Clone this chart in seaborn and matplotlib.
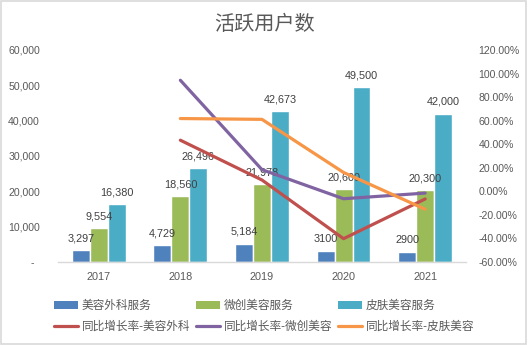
import numpy as np
import pandas as pd
import matplotlib
matplotlib.use("Agg")
import matplotlib.pyplot as plt
import seaborn as sns
from matplotlib.ticker import FuncFormatter, MultipleLocator
from matplotlib.patches import Patch, Rectangle
from matplotlib.lines import Line2D

# ---- data ----
years = ["2017", "2018", "2019", "2020", "2021"]
bar_series = ["美容外科服务", "微创美容服务", "皮肤美容服务"]
surgery = [3297, 4729, 5184, 3100, 2900]
minimal = [9554, 18560, 21978, 20600, 20300]
skin = [16380, 26496, 42673, 49500, 42000]

line_series = ["同比增长率-美容外科", "同比增长率-微创美容", "同比增长率-皮肤美容"]
growth_surgery = [np.nan, 43.4, 9.6, -40.2, -6.5]
growth_minimal = [np.nan, 94.3, 18.4, -6.3, -1.5]
growth_skin = [np.nan, 61.8, 61.1, 16.0, -15.2]

# bars whose data label is written without a thousands separator
plain_labels = {("美容外科服务", "2020"), ("美容外科服务", "2021")}

bar_colors = ["#4F81BD", "#9BBB59", "#4BACC6"]
line_colors = ["#C0504D", "#8064A2", "#F79646"]
text_color = "#595959"

# ---- tidy tables ----
bars = pd.DataFrame({
    "year": years * 3,
    "series": [s for s in bar_series for _ in years],
    "value": surgery + minimal + skin,
})
lines = pd.DataFrame({
    "pos": list(range(len(years))) * 3,
    "series": [s for s in line_series for _ in years],
    "rate": growth_surgery + growth_minimal + growth_skin,
}).dropna()

sns.set_style("white")
plt.rcParams["font.family"] = ["Liberation Sans", "Noto Sans CJK SC"]
plt.rcParams["axes.unicode_minus"] = False

fig = plt.figure(figsize=(5.28, 3.45), dpi=100)
ax = fig.add_axes([0.1098, 0.2406, 0.7727, 0.6145])

sns.barplot(data=bars, x="year", y="value", hue="series", order=years,
            hue_order=bar_series, palette=bar_colors, width=0.66, gap=0,
            saturation=1, legend=False, ax=ax)

for cont, name in zip(ax.containers, bar_series):
    labels = []
    for yr, bar in zip(years, cont):
        v = int(round(bar.get_height()))
        labels.append(str(v) if (name, yr) in plain_labels else f"{v:,}")
    ax.bar_label(cont, labels=labels, padding=5, fontsize=7.8, color="#404040")

ax.set_ylim(0, 60000)
ax.yaxis.set_major_locator(MultipleLocator(10000))
ax.yaxis.set_major_formatter(FuncFormatter(lambda v, p: "-  " if v == 0 else f"{int(v):,}"))
ax.set_xlabel("")
ax.set_ylabel("")

ax2 = ax.twinx()
sns.lineplot(data=lines, x="pos", y="rate", hue="series", hue_order=line_series,
             palette=line_colors, linewidth=2.3, errorbar=None, legend=False,
             sort=False, ax=ax2)
ax2.set_ylim(-60, 120)
ax2.yaxis.set_major_locator(MultipleLocator(20))
ax2.yaxis.set_major_formatter(FuncFormatter(lambda v, p: f"{v:.2f}%"))
ax2.set_ylabel("")
ax2.set_xlabel("")

ax.set_xlim(-0.5, len(years) - 0.5)
ax.set_xticks(range(len(years)), years)

for a in (ax, ax2):
    for side in ("top", "left", "right", "bottom"):
        a.spines[side].set_visible(False)
    a.grid(False)
ax.spines["bottom"].set_visible(True)
ax.spines["bottom"].set_color("#D9D9D9")
ax.spines["bottom"].set_linewidth(1)

ax.tick_params(axis="x", length=0, pad=7, labelsize=7.8, labelcolor=text_color)
ax.tick_params(axis="y", length=0, pad=13, labelsize=7.6, labelcolor=text_color)
ax2.tick_params(axis="y", length=0, pad=9, labelsize=7.6, labelcolor=text_color)

fig.text(0.5, 0.928, "活跃用户数", ha="center", va="center", fontsize=14.5,
         color=text_color, family=["Noto Sans CJK SC"], fontweight="medium")

handles, labels = [], []
for i in range(3):
    handles.append(Patch(facecolor=bar_colors[i], edgecolor="none"))
    labels.append(bar_series[i])
    handles.append(Line2D([0], [0], color=line_colors[i], linewidth=2.3))
    labels.append(line_series[i])
leg = fig.legend(handles, labels, ncol=3, loc="center", bbox_to_anchor=(0.5, 0.083),
                 frameon=False, fontsize=8.4, handlelength=2.1, handleheight=0.6,
                 handletextpad=0.3, columnspacing=0.45, labelspacing=0.75)
for t in leg.get_texts():
    t.set_color(text_color)

fig.patches.append(Rectangle((0.002, 0.003), 0.995, 0.993, transform=fig.transFigure,
                             fill=False, edgecolor="#D9D9D9", linewidth=1.2))

fig.savefig("out.png", dpi=100)
